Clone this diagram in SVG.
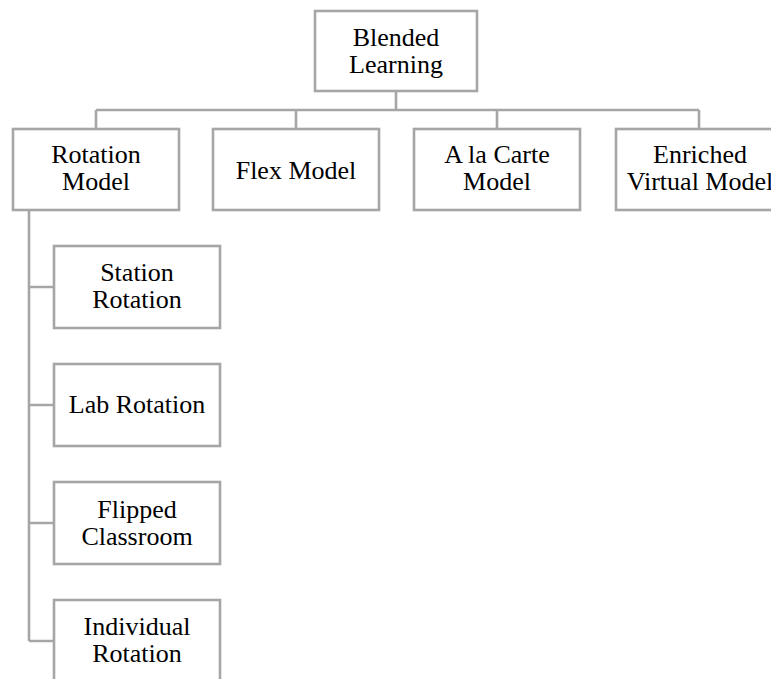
<svg xmlns="http://www.w3.org/2000/svg" width="771" height="679" viewBox="0 0 771 679">
<style>
.box{fill:#fff;stroke:#a6a6a6;stroke-width:2.6}
.ln{fill:none;stroke:#a6a6a6;stroke-width:2.6}
</style>
<rect width="771" height="679" fill="#fff"/>
<g id="connectors">
<path class="ln" d="M396 91V110M96 110H699M96 110V129M296 110V129M497 110V129M699 110V129"/>
<path class="ln" d="M29 210V641M29 287H54M29 405H54M29 523H54M29 641H54"/>
</g>
<g font-family="Liberation Serif, Times New Roman, DejaVu Serif, serif" font-size="26" fill="#000" text-anchor="middle">
<g id="blended"><rect class="box" x="315" y="11" width="162" height="80"/><text x="396" y="46">Blended</text><text x="396" y="73">Learning</text></g>
<g id="rotation"><rect class="box" x="13" y="129" width="166" height="81"/><text x="96" y="163">Rotation</text><text x="96" y="190">Model</text></g>
<g id="flex"><rect class="box" x="213" y="129" width="166" height="81"/><text x="296" y="179">Flex Model</text></g>
<g id="alacarte"><rect class="box" x="414" y="129" width="166" height="81"/><text x="497" y="163">A la Carte</text><text x="497" y="190">Model</text></g>
<g id="enriched"><rect class="box" x="616" y="129" width="166" height="81"/><text x="700" y="163">Enriched</text><text x="700" y="190">Virtual Model</text></g>
<g id="station"><rect class="box" x="54" y="246" width="166" height="82"/><text x="137" y="281">Station</text><text x="137" y="308">Rotation</text></g>
<g id="lab"><rect class="box" x="54" y="364" width="166" height="82"/><text x="137" y="413">Lab Rotation</text></g>
<g id="flipped"><rect class="box" x="54" y="482" width="166" height="82"/><text x="137" y="518">Flipped</text><text x="137" y="545">Classroom</text></g>
<g id="individual"><rect class="box" x="54" y="600" width="166" height="82"/><text x="137" y="635">Individual</text><text x="137" y="662">Rotation</text></g>
</g>
</svg>
